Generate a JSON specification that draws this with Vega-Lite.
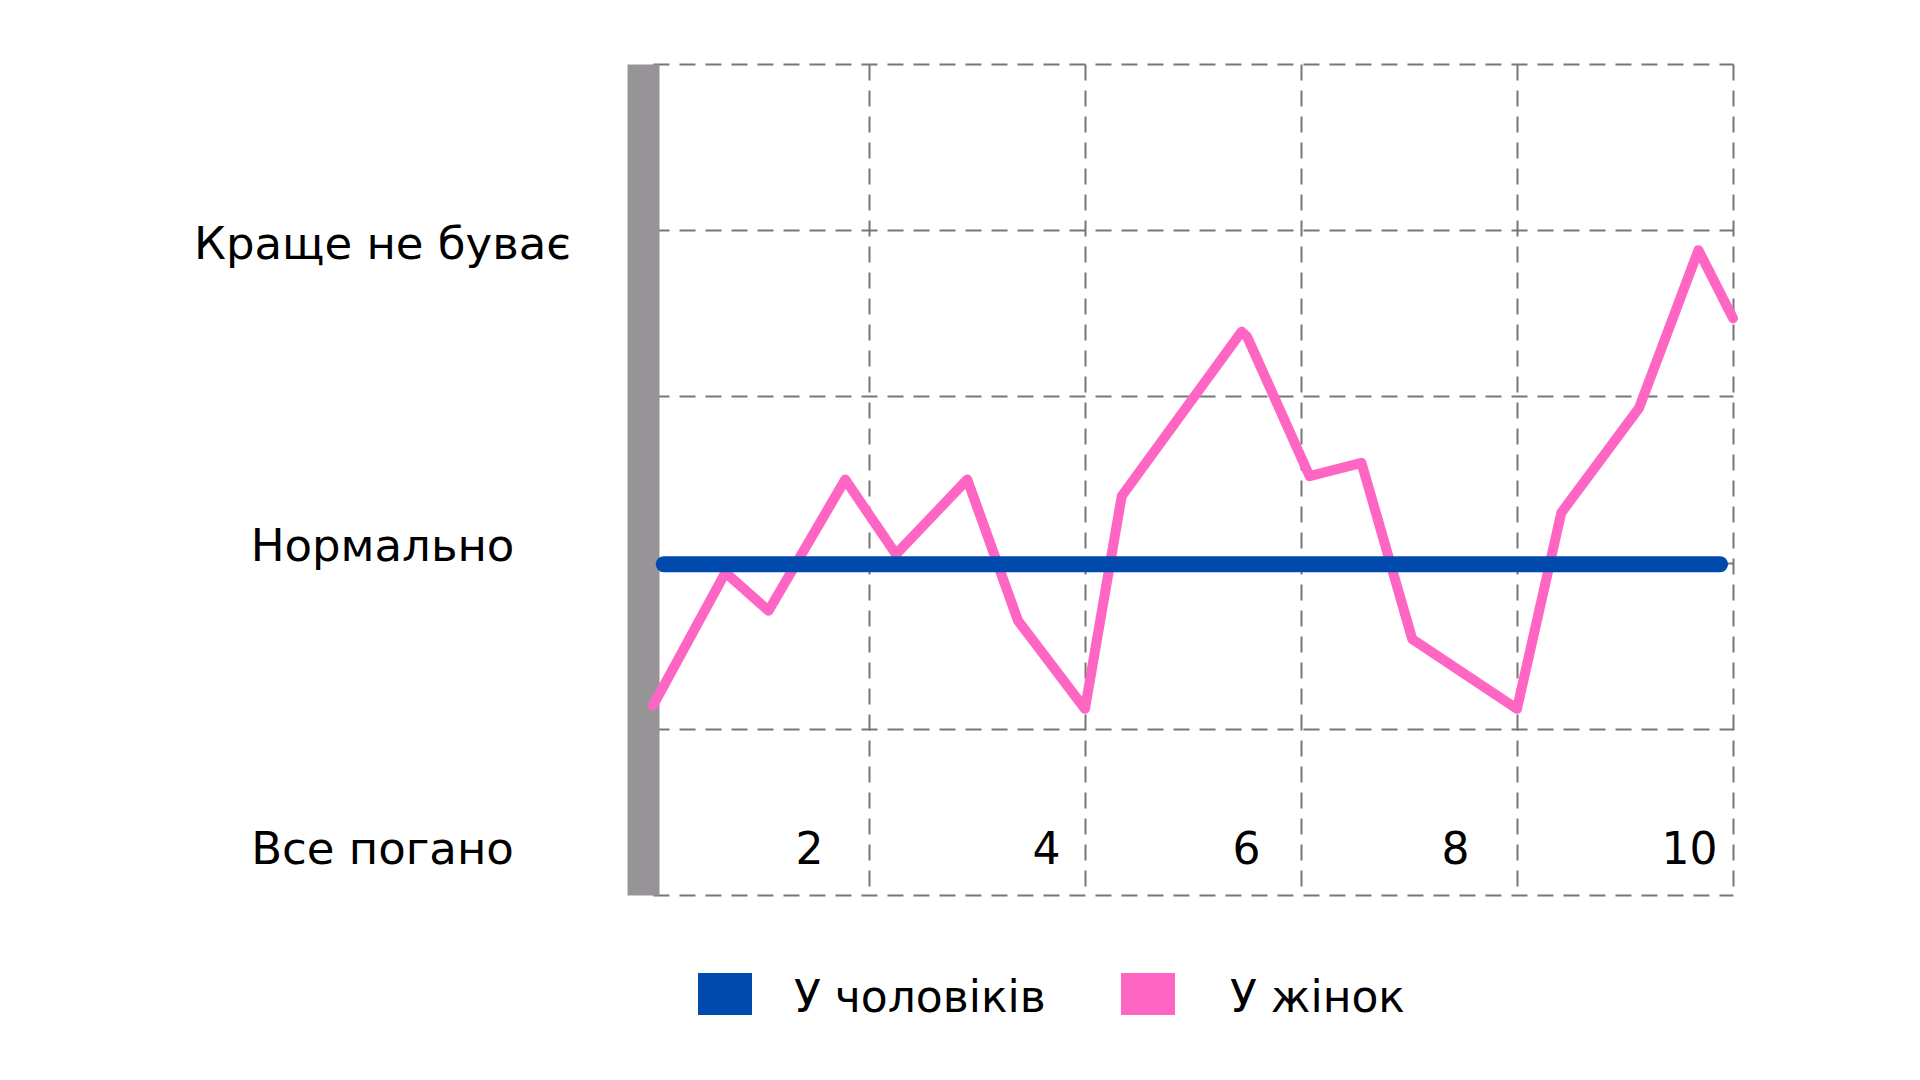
{
  "$schema": "https://vega.github.io/schema/vega-lite/v6.json",
  "width": 1080,
  "height": 831,
  "autosize": {"type": "none"},
  "padding": {"left": 653, "top": 64, "right": 187, "bottom": 185},
  "background": "white",
  "data": {
    "values": [
      {"series": "У жінок", "x": 0, "y": 1.14},
      {"series": "У жінок", "x": 0.67, "y": 1.94},
      {"series": "У жінок", "x": 1.07, "y": 1.71},
      {"series": "У жінок", "x": 1.78, "y": 2.5},
      {"series": "У жінок", "x": 2.25, "y": 2.05},
      {"series": "У жінок", "x": 2.91, "y": 2.5},
      {"series": "У жінок", "x": 3.38, "y": 1.65},
      {"series": "У жінок", "x": 4.0, "y": 1.12},
      {"series": "У жінок", "x": 4.34, "y": 2.4},
      {"series": "У жінок", "x": 5.45, "y": 3.39},
      {"series": "У жінок", "x": 5.5, "y": 3.36},
      {"series": "У жінок", "x": 6.08, "y": 2.52},
      {"series": "У жінок", "x": 6.56, "y": 2.6},
      {"series": "У жінок", "x": 7.03, "y": 1.54},
      {"series": "У жінок", "x": 8.0, "y": 1.12},
      {"series": "У жінок", "x": 8.41, "y": 2.3},
      {"series": "У жінок", "x": 9.13, "y": 2.93},
      {"series": "У жінок", "x": 9.68, "y": 3.88},
      {"series": "У жінок", "x": 10, "y": 3.47},
      {"series": "У чоловіків", "x": 0.1, "y": 1.99},
      {"series": "У чоловіків", "x": 9.88, "y": 1.99}
    ]
  },
  "encoding": {
    "x": {
      "field": "x",
      "type": "quantitative",
      "scale": {"domain": [0, 10], "nice": false, "zero": false},
      "axis": {
        "values": [0, 2, 4, 6, 8, 10],
        "title": null,
        "grid": true,
        "gridDash": [16, 10],
        "gridColor": "#777777",
        "gridWidth": 2,
        "domain": false,
        "ticks": false,
        "tickSize": 0,
        "labelExpr": "datum.value == 0 ? '' : datum.label",
        "labelAlign": "center",
        "labelBaseline": "alphabetic",
        "labelPadding": -32,
        "labelFont": "DejaVu Sans",
        "labelFontSize": 44,
        "labelColor": "#000000",
        "labelFlush": false,
        "labelOverlap": false,
        "labelOffset": {
          "condition": [
            {"test": "datum.value == 2", "value": -60},
            {"test": "datum.value == 4", "value": -39},
            {"test": "datum.value == 6", "value": -55},
            {"test": "datum.value == 8", "value": -62}
          ],
          "value": -44
        }
      }
    },
    "y": {
      "field": "y",
      "type": "quantitative",
      "scale": {"domain": [0, 5], "nice": false, "zero": false},
      "axis": {
        "values": [0, 1, 2, 3, 4, 5],
        "title": null,
        "grid": true,
        "gridDash": [16, 10],
        "gridColor": "#777777",
        "gridWidth": 2,
        "ticks": false,
        "tickSize": 0,
        "domain": true,
        "domainColor": "#969497",
        "domainWidth": 32,
        "offset": 10,
        "labelExpr": "datum.value == 0 ? 'Все погано' : datum.value == 2 ? 'Нормально' : datum.value == 4 ? 'Краще не буває' : ''",
        "labelAlign": "center",
        "labelBaseline": "alphabetic",
        "labelPadding": 261,
        "labelFont": "DejaVu Sans",
        "labelFontSize": 45,
        "labelColor": "#000000",
        "labelLimit": 1000,
        "labelOverlap": false,
        "labelFlush": false,
        "labelOffset": {
          "condition": [
            {"test": "datum.value == 0", "value": -32},
            {"test": "datum.value == 2", "value": -2}
          ],
          "value": 28
        }
      }
    },
    "color": {
      "field": "series",
      "type": "nominal",
      "scale": {"domain": ["У чоловіків", "У жінок"], "range": ["#004AAD", "#FF66C4"]},
      "legend": {
        "title": null,
        "orient": "none",
        "legendX": 45,
        "legendY": 903,
        "direction": "horizontal",
        "symbolType": "M-1,-0.778H1V0.778H-1Z",
        "symbolSize": 2916,
        "labelFont": "DejaVu Sans",
        "labelFontSize": 44,
        "labelColor": "#000000",
        "labelOffset": 42,
        "labelLimit": 1000,
        "columnPadding": 75,
        "encode": {
          "symbols": {
            "update": {
              "fill": {"scale": "color", "field": "value"},
              "stroke": {"value": "transparent"},
              "strokeWidth": {"value": 0},
              "opacity": {"value": 1}
            }
          },
          "labels": {
            "update": {
              "dy": {"value": 5},
              "dx": [
                {"test": "datum.value == 'У жінок'", "value": 13},
                {"value": 0}
              ]
            }
          }
        }
      }
    }
  },
  "layer": [
    {
      "transform": [{"filter": "datum.series == 'У жінок'"}],
      "mark": {"type": "line", "strokeWidth": 10, "strokeCap": "round", "strokeJoin": "round"}
    },
    {
      "transform": [{"filter": "datum.series == 'У чоловіків'"}],
      "mark": {"type": "line", "strokeWidth": 16, "strokeCap": "round"}
    }
  ],
  "config": {"view": {"stroke": null}, "font": "DejaVu Sans"}
}
